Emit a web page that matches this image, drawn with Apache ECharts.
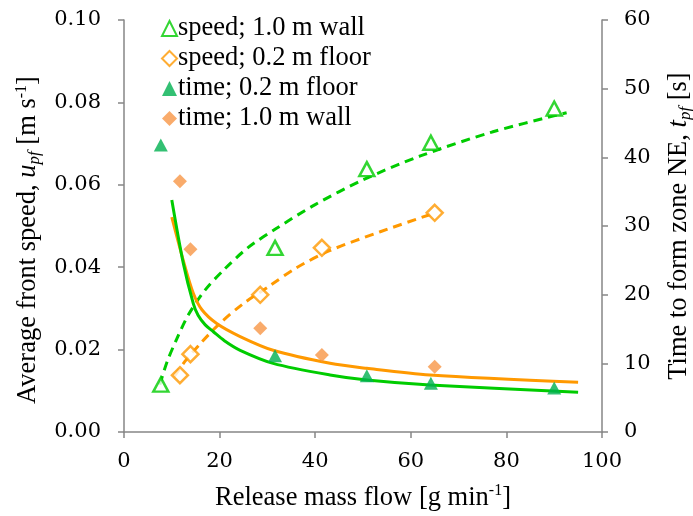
<!DOCTYPE html>
<html lang="en">
<head>
<meta charset="utf-8">
<script src="https://cdn.jsdelivr.net/npm/echarts@6/dist/echarts.min.js"></script>
<style>
  html, body { margin: 0; padding: 0; background: #fff; }
  #main { width: 693px; height: 516px; }
</style>
</head>
<body>
<div id="main"></div>
<script>
// 数据
var flowWall = [7.7, 31.6, 50.8, 64.2, 90.0];
var flowFloor = [11.7, 13.9, 28.5, 41.4, 65.0];
var speedWall = [0.0115, 0.0447, 0.0638, 0.0702, 0.0785];
var speedFloor = [0.0138, 0.0189, 0.0333, 0.0447, 0.0532];
var timeFloor = [41.8, 11.1, 8.2, 7.1, 6.4];
var timeWall = [36.5, 26.6, 15.1, 11.2, 9.5];

// trend lines, points
var fitSpeedWallX = [7.5, 9, 11, 13.5, 17, 21, 26, 32, 40, 50, 62, 77, 92.6];
var fitSpeedWallY = [0.0115, 0.0170, 0.0225, 0.0285, 0.0345, 0.0395, 0.0448, 0.0495, 0.0552, 0.0612, 0.0670, 0.0728, 0.0775];
var fitSpeedFloorX = [10.5, 13, 16, 20, 25, 30.5, 36, 43, 53.6, 65.1];
var fitSpeedFloorY = [0.0135, 0.0175, 0.0215, 0.0263, 0.0312, 0.0355, 0.0398, 0.0440, 0.0486, 0.0532];
var fitTimeFloorX = [10.0, 12.4, 14.5, 15.5, 17, 18.7, 21, 24.3, 31.2, 43.1, 50.8, 64.0, 95.0];
var fitTimeFloorY = [33.8, 24.6, 18.7, 17.0, 15.6, 14.6, 13.3, 11.9, 10.0, 8.3, 7.57, 6.84, 5.78];
var fitTimeWallX = [10.0, 12.4, 14.5, 16.3, 19.4, 24.3, 31.2, 43.1, 50.8, 64.0, 95.0];
var fitTimeWallY = [31.3, 25.0, 20.2, 17.8, 15.8, 13.9, 11.9, 10.0, 9.27, 8.3, 7.24];

var legendNames = ['speed; 1.0 m wall', 'speed; 0.2 m floor', 'time; 0.2 m floor', 'time; 1.0 m wall'];

function pairs(xs, ys) {
    return xs.map(function (x, i) { return [x, ys[i]]; });
}

// 'serif' gives the Times-like face for words (rich text); digit-only labels need a named serif
var FONT = 'serif';
var TICK_FONT = 'DejaVu Serif';
var AXIS_GRAY = '#868686';
var richName = {
    n: { fontFamily: FONT, fontSize: 26.5, color: '#000', lineHeight: 30 },
    i: { fontFamily: FONT, fontSize: 26.5, color: '#000', fontStyle: 'italic', lineHeight: 30 },
    sb: { fontFamily: FONT, fontSize: 17, color: '#000', fontStyle: 'italic', lineHeight: 14, verticalAlign: 'bottom' },
    sp: { fontFamily: FONT, fontSize: 16, color: '#000', lineHeight: 16, verticalAlign: 'top' }
};
var richLegend = {
    t: { fontFamily: FONT, fontSize: 26.5, color: '#000', lineHeight: 28 }
};
var tickStyle = { fontFamily: TICK_FONT, fontSize: 21, color: '#000' };

var myChart = echarts.init(document.getElementById('main'));

var option = {
    animation: false,
    grid: { left: 124, right: 91, top: 20, bottom: 84, outerBoundsMode: 'none' },
    legend: {
        data: legendNames,
        orient: 'vertical',
        left: 156,
        top: 10,
        itemWidth: 15,
        itemHeight: 15,
        itemGap: 3,
        formatter: function (name) { return '{t|' + name + '}'; },
        textStyle: { rich: richLegend, padding: [0, 0, 0, -4] }
    },
    xAxis: {
        type: 'value',
        min: 0,
        max: 100,
        interval: 20,
        name: '{n|Release mass flow [g min}{sp|-1}{n|]}',
        nameLocation: 'middle',
        nameGap: 51,
        nameTextStyle: { rich: richName },
        axisLine: { lineStyle: { color: AXIS_GRAY, width: 1.5 } },
        axisTick: { length: 6, lineStyle: { color: AXIS_GRAY, width: 1.5 } },
        axisLabel: Object.assign({ margin: 19 }, tickStyle),
        splitLine: { show: false }
    },
    yAxis: [{
        type: 'value',
        min: 0,
        max: 0.1,
        interval: 0.02,
        name: '{n|Average front speed, }{i|u}{sb|pf}{n| [m s}{sp|-1}{n|]}',
        nameLocation: 'middle',
        nameRotate: 90,
        nameGap: 80,
        nameTextStyle: { rich: richName, padding: [0, 28, 0, 0] },
        axisLine: { show: true, lineStyle: { color: AXIS_GRAY, width: 1.5 } },
        axisTick: { show: true, length: 6, lineStyle: { color: AXIS_GRAY, width: 1.5 } },
        axisLabel: Object.assign({
            margin: 23,
            formatter: function (v) { return v.toFixed(2); }
        }, tickStyle),
        splitLine: { show: false }
    }, {
        type: 'value',
        min: 0,
        max: 60,
        interval: 10,
        position: 'right',
        name: '{n|Time to form zone NE, }{i|t}{sb|pf}{n| [s]}',
        nameLocation: 'middle',
        nameRotate: 90,
        nameGap: 62,
        nameTextStyle: { rich: richName },
        axisLine: { show: true, lineStyle: { color: AXIS_GRAY, width: 1.5 } },
        axisTick: { show: true, length: 6, lineStyle: { color: AXIS_GRAY, width: 1.5 } },
        axisLabel: Object.assign({ margin: 22 }, tickStyle),
        splitLine: { show: false }
    }],
    series: [
        {
            // 拟合曲线
            type: 'line', smooth: 0.3, showSymbol: false, silent: true,
            data: pairs(fitSpeedWallX, fitSpeedWallY),
            lineStyle: { color: '#00CC00', width: 3, type: [9, 6] }, z: 2
        },
        {
            type: 'line', smooth: 0.3, showSymbol: false, silent: true,
            data: pairs(fitSpeedFloorX, fitSpeedFloorY),
            lineStyle: { color: '#FF9900', width: 3, type: [9, 6] }, z: 2
        },
        {
            type: 'line', smooth: 0.3, showSymbol: false, silent: true, yAxisIndex: 1,
            data: pairs(fitTimeWallX, fitTimeWallY),
            lineStyle: { color: '#FF9900', width: 3 }, z: 2
        },
        {
            type: 'line', smooth: 0.3, showSymbol: false, silent: true, yAxisIndex: 1,
            data: pairs(fitTimeFloorX, fitTimeFloorY),
            lineStyle: { color: '#00CC00', width: 3 }, z: 2
        },
        // 观察点
        {
            name: legendNames[0], type: 'scatter', symbol: 'triangle', symbolSize: [15, 14],
            data: pairs(flowWall, speedWall),
            itemStyle: { color: '#fff', borderColor: '#00CC00', borderWidth: 2.5 }, z: 5
        },
        {
            name: legendNames[1], type: 'scatter', symbol: 'diamond', symbolSize: 16,
            data: pairs(flowFloor, speedFloor),
            itemStyle: { color: '#fff', borderColor: '#FF9900', borderWidth: 2.5 }, z: 5
        },
        {
            name: legendNames[2], type: 'scatter', symbol: 'triangle', symbolSize: [14, 13], yAxisIndex: 1,
            data: pairs(flowWall, timeFloor),
            itemStyle: { color: '#00B050' }, z: 5
        },
        {
            name: legendNames[3], type: 'scatter', symbol: 'diamond', symbolSize: 14, yAxisIndex: 1,
            data: pairs(flowFloor, timeWall),
            itemStyle: { color: '#F79646' }, z: 5
        }
    ]
};

myChart.setOption(option);

window.addEventListener('resize', function () {
    myChart.resize();
});
</script>
</body>
</html>
